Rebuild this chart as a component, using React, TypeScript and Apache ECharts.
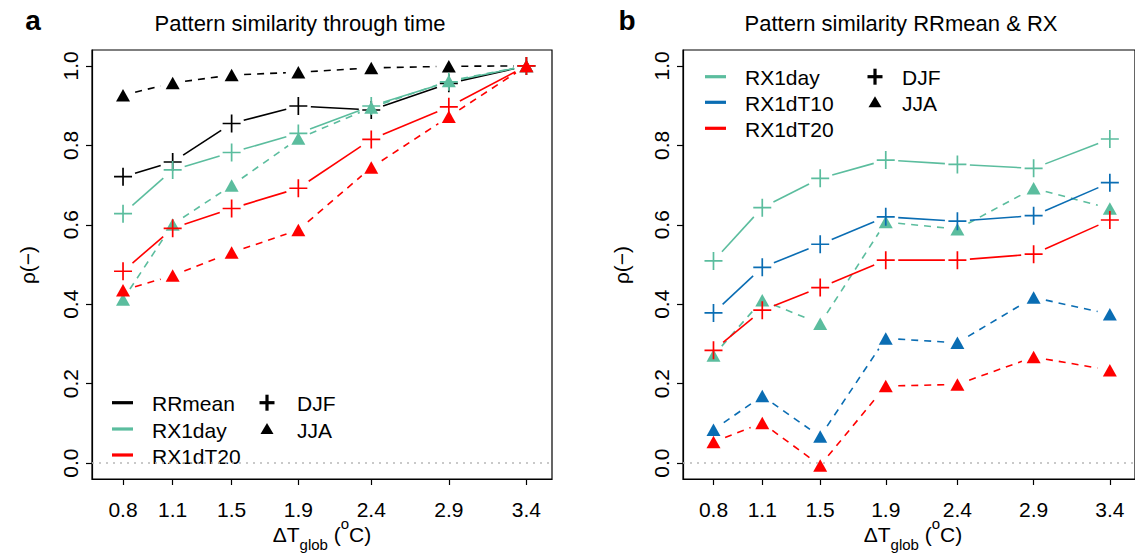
import React, { useEffect, useRef } from "react";
import * as echarts from "echarts";

// ---------- data ----------
const xTemps = [0.8, 1.12, 1.5, 1.93, 2.4, 2.9, 3.4];
const xTickLabels = ["0.8", "1.1", "1.5", "1.9", "2.4", "2.9", "3.4"];
const yTicks = [0, 0.2, 0.4, 0.6, 0.8, 1.0];

// panel a : pattern similarity through time
const aRRmeanDJF = [0.721, 0.758, 0.855, 0.899, 0.889, 0.956, 1.0];
const aRRmeanJJA = [0.926, 0.957, 0.977, 0.984, 0.995, 0.999, 1.0];
const aRX1dayDJF = [0.628, 0.738, 0.782, 0.83, 0.899, 0.96, 1.0];
const aRX1dayJJA = [0.412, 0.601, 0.699, 0.817, 0.895, 0.962, 1.0];
const aRX1dT20DJF = [0.483, 0.591, 0.641, 0.692, 0.815, 0.897, 1.0];
const aRX1dT20JJA = [0.435, 0.472, 0.53, 0.587, 0.744, 0.872, 1.0];

// panel b : pattern similarity RRmean & RX
const bRX1dayDJF = [0.509, 0.643, 0.717, 0.763, 0.752, 0.742, 0.816];
const bRX1dayJJA = [0.271, 0.41, 0.351, 0.607, 0.589, 0.692, 0.641];
const bRX1dT10DJF = [0.378, 0.493, 0.551, 0.62, 0.609, 0.623, 0.706];
const bRX1dT10JJA = [0.084, 0.169, 0.067, 0.314, 0.303, 0.417, 0.375];
const bRX1dT20DJF = [0.284, 0.385, 0.442, 0.511, 0.511, 0.526, 0.612];
const bRX1dT20JJA = [0.053, 0.101, -0.006, 0.194, 0.198, 0.267, 0.234];

const titleA = "Pattern similarity through time";
const titleB = "Pattern similarity RRmean & RX";
const legendA = ["RRmean", "RX1day", "RX1dT20"];
const legendB = ["RX1day", "RX1dT10", "RX1dT20"];
const seasonNames = ["DJF", "JJA"];

// ---------- styles ----------
const FONT = "'Liberation Sans', Arial, Helvetica, sans-serif";
const BLACK = "#000000";
const GREEN = "#5BBD9E";
const BLUE = "#0A6DB3";
const RED = "#FF0000";
const PLUS = "path://M8.15,0H9.85V8.15H18V9.85H9.85V18H8.15V9.85H0V8.15H8.15Z";
const GAP = 12.5;

function pairSegments(xs: number[], ys: number[]) {
  const out: number[][] = [];
  for (let i = 0; i < xs.length - 1; i++) out.push([xs[i], ys[i], xs[i + 1], ys[i + 1]]);
  return out;
}

function addSeries(list: any[], g: number, ys: number[], color: string, dashed: boolean, tri: boolean, zeroLine: boolean) {
  list.push({
    type: "custom",
    xAxisIndex: g,
    yAxisIndex: g,
    silent: true,
    encode: { x: [0, 2], y: [1, 3] },
    data: pairSegments(xTemps, ys),
    renderItem: (params: any, api: any) => {
      const a = api.coord([api.value(0), api.value(1)]);
      const b = api.coord([api.value(2), api.value(3)]);
      const dx = b[0] - a[0];
      const dy = b[1] - a[1];
      const len = Math.hypot(dx, dy);
      if (len <= 2 * GAP) return { type: "group", children: [] };
      const ux = dx / len;
      const uy = dy / len;
      return {
        type: "line",
        shape: { x1: a[0] + ux * GAP, y1: a[1] + uy * GAP, x2: b[0] - ux * GAP, y2: b[1] - uy * GAP },
        style: { stroke: color, lineWidth: 1.6, lineDash: dashed ? [7, 6] : null, fill: null },
      };
    },
  });
  const s: any = {
    type: "scatter",
    xAxisIndex: g,
    yAxisIndex: g,
    silent: true,
    data: xTemps.map((x, i) => [x, ys[i]]),
    symbol: tri ? "triangle" : PLUS,
    symbolSize: tri ? [14, 12.5] : 18,
    itemStyle: { color, opacity: 1 },
  };
  if (zeroLine) {
    s.markLine = {
      silent: true,
      symbol: ["none", "none"],
      label: { show: false },
      lineStyle: { color: "#b8b8b8", type: [2, 5], width: 1.5 },
      data: [{ yAxis: 0 }],
    };
  }
  list.push(s);
}

function xAxisCfg(g: number) {
  return {
    type: "value",
    gridIndex: g,
    min: 0.6,
    max: 3.565,
    splitLine: { show: false },
    axisLine: { show: true, onZero: false, lineStyle: { color: BLACK, width: 1.2 } },
    axisTick: { show: true, customValues: xTemps, length: 6, lineStyle: { color: BLACK, width: 1.2 } },
    axisLabel: {
      show: true,
      customValues: xTemps,
      margin: 20,
      color: BLACK,
      fontSize: 21,
      fontFamily: FONT,
      formatter: (v: number) => {
        let best = 0;
        xTemps.forEach((t, i) => {
          if (Math.abs(t - v) < Math.abs(xTemps[best] - v)) best = i;
        });
        return xTickLabels[best];
      },
    },
  };
}

function yAxisCfg(g: number) {
  return {
    type: "value",
    gridIndex: g,
    min: -0.04,
    max: 1.04,
    splitLine: { show: false },
    axisLine: { show: true, onZero: false, lineStyle: { color: BLACK, width: 1.2 } },
    axisTick: { show: true, customValues: yTicks, length: 6, lineStyle: { color: BLACK, width: 1.2 } },
    axisLabel: {
      show: true,
      customValues: yTicks,
      rotate: 90,
      margin: 11,
      color: BLACK,
      fontSize: 21,
      fontFamily: FONT,
      formatter: (v: number) => v.toFixed(1),
    },
  };
}

function txt(x: number, y: number, text: string, extra: any = {}) {
  return {
    type: "text",
    x,
    y,
    silent: true,
    style: {
      text,
      fill: BLACK,
      fontSize: 21,
      fontFamily: FONT,
      align: "left",
      verticalAlign: "middle",
      ...extra,
    },
  };
}

function xTitle(cx: number) {
  return {
    type: "text",
    x: cx,
    y: 534,
    silent: true,
    style: {
      text: "{b|ΔT}{s|glob}{b| (}{p|o}{b|C)}",
      fill: BLACK,
      align: "center",
      verticalAlign: "middle",
      fontFamily: FONT,
      rich: {
        b: { fontSize: 21, fontFamily: FONT, fill: BLACK, lineHeight: 36, verticalAlign: "middle" },
        s: { fontSize: 15, fontFamily: FONT, fill: BLACK, lineHeight: 20, verticalAlign: "bottom" },
        p: { fontSize: 15, fontFamily: FONT, fill: BLACK, lineHeight: 24, verticalAlign: "top" },
      },
    },
  };
}

function legendBlock(x0: number, rows: number[], names: string[], colors: string[], symX: number, symTextX: number) {
  const els: any[] = [];
  names.forEach((n, i) => {
    els.push({
      type: "line",
      silent: true,
      shape: { x1: x0, y1: rows[i], x2: x0 + 21, y2: rows[i] },
      style: { stroke: colors[i], lineWidth: 3.2 },
    });
    els.push(txt(x0 + 40, rows[i] + 1, n));
  });
  // bold plus
  els.push({ type: "rect", silent: true, shape: { x: symX - 7.5, y: rows[0] - 1.6, width: 15, height: 3.2 }, style: { fill: BLACK } });
  els.push({ type: "rect", silent: true, shape: { x: symX - 1.6, y: rows[0] - 8, width: 3.2, height: 16 }, style: { fill: BLACK } });
  // triangle
  els.push({
    type: "polygon",
    silent: true,
    shape: { points: [[symX, rows[1] - 6], [symX + 6.5, rows[1] + 5], [symX - 6.5, rows[1] + 5]] },
    style: { fill: BLACK },
  });
  els.push(txt(symTextX, rows[0] + 1, seasonNames[0]));
  els.push(txt(symTextX, rows[1] + 1, seasonNames[1]));
  return els;
}

export default function App() {
  const ref = useRef<HTMLDivElement>(null);
  useEffect(() => {
    if (!ref.current) return;
    const chart = echarts.init(ref.current, null, { renderer: "svg" });
    const series: any[] = [];
    // panel a
    addSeries(series, 0, aRRmeanDJF, BLACK, false, false, true);
    addSeries(series, 0, aRRmeanJJA, BLACK, true, true, false);
    addSeries(series, 0, aRX1dayDJF, GREEN, false, false, false);
    addSeries(series, 0, aRX1dayJJA, GREEN, true, true, false);
    addSeries(series, 0, aRX1dT20DJF, RED, false, false, false);
    addSeries(series, 0, aRX1dT20JJA, RED, true, true, false);
    // panel b
    addSeries(series, 1, bRX1dayDJF, GREEN, false, false, true);
    addSeries(series, 1, bRX1dayJJA, GREEN, true, true, false);
    addSeries(series, 1, bRX1dT10DJF, BLUE, false, false, false);
    addSeries(series, 1, bRX1dT10JJA, BLUE, true, true, false);
    addSeries(series, 1, bRX1dT20DJF, RED, false, false, false);
    addSeries(series, 1, bRX1dT20JJA, RED, true, true, false);

    const graphic: any[] = [
      txt(300, 23, titleA, { align: "center", fontSize: 22 }),
      txt(901, 23, titleB, { align: "center", fontSize: 22 }),
      txt(33, 34, "a", { align: "center", verticalAlign: "bottom", fontSize: 28, fontWeight: "bold" }),
      txt(627, 34, "b", { align: "center", verticalAlign: "bottom", fontSize: 28, fontWeight: "bold" }),
      { ...txt(27, 265, "ρ(−)", { align: "center" }), rotation: Math.PI / 2 },
      { ...txt(621, 265, "ρ(−)", { align: "center" }), rotation: Math.PI / 2 },
      xTitle(322),
      xTitle(913),
      ...legendBlock(112, [402.7, 429, 455], legendA, [BLACK, GREEN, RED], 267, 297),
      ...legendBlock(705, [76.7, 102.3, 128.3], legendB, [GREEN, BLUE, RED], 875, 902),
    ];

    chart.setOption({
      animation: false,
      backgroundColor: "#ffffff",
      textStyle: { fontFamily: FONT },
      grid: [
        { left: 92, top: 50, width: 460, height: 429, show: true, borderColor: BLACK, borderWidth: 1.2, backgroundColor: "transparent" },
        { left: 683, top: 50, width: 460, height: 429, show: true, borderColor: BLACK, borderWidth: 1.2, backgroundColor: "transparent" },
      ],
      xAxis: [xAxisCfg(0), xAxisCfg(1)],
      yAxis: [yAxisCfg(0), yAxisCfg(1)],
      series,
      graphic,
    });
    return () => chart.dispose();
  }, []);
  return (
    <div
      ref={ref}
      style={{ position: "absolute", left: 0, top: 0, width: 1135, height: 553, background: "#fff" }}
    />
  );
}
